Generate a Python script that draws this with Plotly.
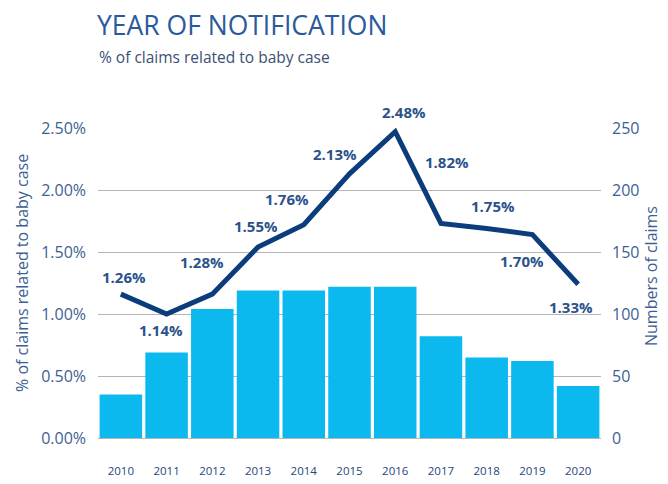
import plotly.graph_objects as go

years = ["2010", "2011", "2012", "2013", "2014", "2015", "2016", "2017", "2018", "2019", "2020"]
claims = [35, 69, 104, 119, 119, 122, 122, 82, 65, 62, 42]
rate_pct = [1.16, 1.00, 1.16, 1.54, 1.72, 2.13, 2.47, 1.73, 1.69, 1.64, 1.24]
rate_labels = ["1.26%", "1.14%", "1.28%", "1.55%", "1.76%", "2.13%", "2.48%", "1.82%", "1.75%", "1.70%", "1.33%"]
label_shift = [(3, 17), (-6, -16), (-10, 32), (-2, 21), (-17, 26), (-15, 20), (9, 20), (6, 61), (6, 22), (-10, -26), (-7, -23)]

FONT = "Open Sans"
DARK = "#0b3d7c"
TXT = "#3d5f93"

fig = go.Figure()
fig.add_trace(go.Bar(x=years, y=claims, yaxis="y2", marker=dict(color="#0cb9ee", line=dict(width=0)),
                     showlegend=False, hoverinfo="skip"))
fig.add_trace(go.Scatter(x=years, y=rate_pct, mode="lines", line=dict(color=DARK, width=5),
                         showlegend=False, hoverinfo="skip"))

for i, (v, lab, (dx, dy)) in enumerate(zip(rate_pct, rate_labels, label_shift)):
    fig.add_annotation(x=i, y=v, text="<b>" + lab + "</b>", showarrow=False, xshift=dx, yshift=dy,
                       font=dict(family=FONT, size=15, color="#2b528a"), xref="x", yref="y")

fig.update_layout(
    width=660, height=468,
    margin=dict(l=90, r=67, t=120, b=38),
    paper_bgcolor="white", plot_bgcolor="white",
    bargap=0.07,
    font=dict(family=FONT, color=TXT),
    xaxis=dict(type="category", range=[-0.5, len(years) - 0.5], showgrid=False, showline=False, ticks="",
               tickfont=dict(size=11.5, color="#24467a"), ticklabelstandoff=24, automargin=False),
    yaxis=dict(range=[0, 2.5], tickvals=[0, 0.5, 1, 1.5, 2, 2.5],
               ticktext=["0.00%", "0.50%", "1.00%", "1.50%", "2.00%", "2.50%"],
               showgrid=True, gridcolor="#b5b5b5", gridwidth=1, zeroline=True, zerolinecolor="#b5b5b5",
               zerolinewidth=1, tickfont=dict(size=16, color=TXT), ticklabelstandoff=11, automargin=False),
    yaxis2=dict(range=[0, 250], tickvals=[0, 50, 100, 150, 200, 250], overlaying="y", side="right",
                showgrid=False, zeroline=False, tickfont=dict(size=16, color=TXT), ticklabelstandoff=10,
                automargin=False),
)

fig.add_annotation(text="% of claims related to baby case", xref="paper", yref="paper", x=0, y=0.5,
                   xanchor="center", yanchor="middle", xshift=-76, yshift=10, textangle=-90, showarrow=False,
                   font=dict(family=FONT, size=16, color=TXT))
fig.add_annotation(text="Numbers of claims", xref="paper", yref="paper", x=1, y=0.5,
                   xanchor="center", yanchor="middle", xshift=50, yshift=7, textangle=-90, showarrow=False,
                   font=dict(family=FONT, size=16, color=TXT))
fig.add_annotation(text="YEAR OF NOTIFICATION", xref="paper", yref="paper", x=0, y=1, xanchor="left", yanchor="middle",
                   xshift=-2, yshift=103, showarrow=False, borderpad=0, font=dict(family=FONT, size=26.5, color="#2a5a9c"))
fig.add_annotation(text="% of claims related to baby case", xref="paper", yref="paper", x=0, y=1, xanchor="left",
                   yanchor="middle", xshift=-1, yshift=71, showarrow=False, font=dict(family=FONT, size=15.5, color="#3b4f72"))

fig.write_html("out.html")
